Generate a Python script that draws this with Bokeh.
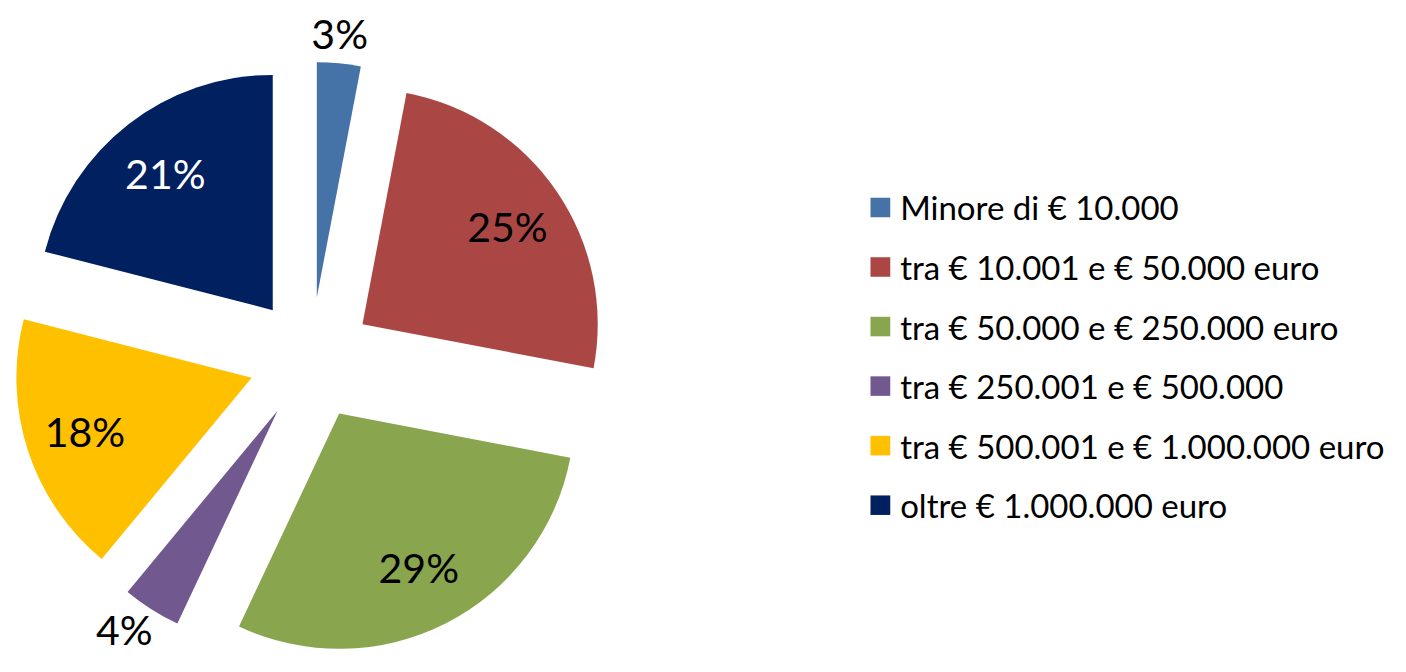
import math
from bokeh.plotting import figure
from bokeh.models import Range1d, ColumnDataSource
from bokeh.core.properties import value
from bokeh.embed import file_html
from bokeh.resources import INLINE

categories = [
    "Minore di € 10.000",
    "tra € 10.001 e € 50.000 euro",
    "tra € 50.000 e € 250.000 euro",
    "tra € 250.001 e € 500.000",
    "tra € 500.001 e € 1.000.000 euro",
    "oltre € 1.000.000 euro",
]
values = [3, 25, 29, 4, 18, 21]
colors = ["#4573A8", "#AA4744", "#89A54E", "#71588F", "#FFC000", "#002060"]
label_colors = ["black", "black", "black", "black", "black", "white"]

W, H = 1390, 656
REF_W, REF_H = 1406, 672
FONT = "Lato"

p = figure(width=W, height=H, output_backend="svg", toolbar_location=None,
           x_range=Range1d(0, REF_W), y_range=Range1d(0, REF_H),
           min_border=0)
p.axis.visible = False
p.grid.visible = False
p.outline_line_color = None
p.background_fill_color = "white"

# pie geometry (reference px, y up)
cx, cy = 314, REF_H - 367
R = 238
explode = 63

total = sum(values)
cum = 0
xs, ys, starts, ends = [], [], [], []
lx, ly, ltxt, lcol = [], [], [], []
outside = []
for i, (v, lc) in enumerate(zip(values, label_colors)):
    a0 = math.pi / 2 - 2 * math.pi * cum / total
    a1 = math.pi / 2 - 2 * math.pi * (cum + v) / total
    mid = (a0 + a1) / 2
    ox = cx + explode * math.cos(mid)
    oy = cy + explode * math.sin(mid)
    xs.append(ox); ys.append(oy); starts.append(a1); ends.append(a0)
    if v >= 10:
        lr = 0.745 * R
        lx.append(ox + lr * math.cos(mid)); ly.append(oy + lr * math.sin(mid))
        ltxt.append(f"{v}%"); lcol.append(lc)
    else:
        c, s = math.cos(mid), math.sin(mid)
        lr = R + (8 if s > 0 else -2)
        align = "center" if abs(c) < 0.3 else ("left" if c > 0 else "right")
        base = "bottom" if s > 0 else "top"
        outside.append((ox + lr * c, oy + lr * s, f"{v}%", lc, align, base))
    cum += v

src = ColumnDataSource(dict(x=xs, y=ys, start=starts, end=ends, color=colors))
p.wedge(x="x", y="y", radius=R, start_angle="start", end_angle="end",
        fill_color="color", line_color=None, source=src)

lsrc = ColumnDataSource(dict(x=lx, y=ly, t=ltxt, c=lcol))
p.text(x="x", y="y", text="t", text_color="c", text_font=value(FONT),
       text_font_size="41px", text_align="center", text_baseline="middle", source=lsrc)

for (x, y, t, c, align, base) in outside:
    p.text(x=[x], y=[y], text=[t], text_color=c, text_font=value(FONT),
           text_font_size="41px", text_align=align, text_baseline=base)

# legend
leg_x = 880
leg_y0 = REF_H - 212
leg_dy = 61
sq = 20
leg_ys = [leg_y0 - i * leg_dy for i in range(len(categories))]
p.rect(x=[leg_x + sq / 2] * len(categories), y=leg_ys, width=sq, height=sq,
       fill_color=colors, line_color=None)
p.text(x=[leg_x + 30] * len(categories), y=leg_ys, text=categories,
       text_font=value(FONT), text_font_size="33px", text_color="black",
       text_align="left", text_baseline="middle")

open("out.html", "w").write(file_html(p, INLINE))
